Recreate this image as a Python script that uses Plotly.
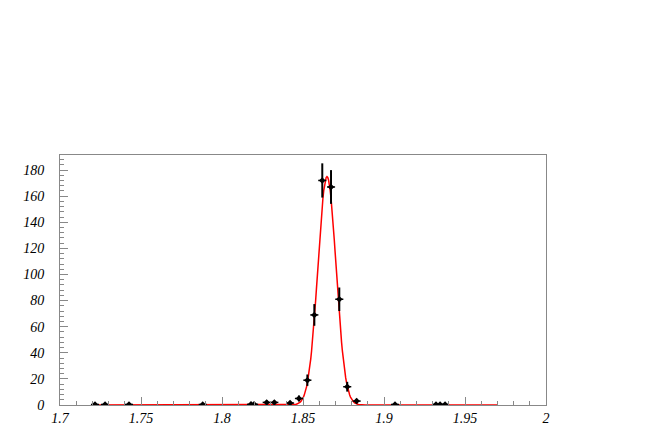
import numpy as np
import plotly.graph_objects as go

# Data points (bin centre, content)
x_vals = [1.7216, 1.7278, 1.7426, 1.7881, 1.8179, 1.8198, 1.8276, 1.8323,
          1.8420, 1.8475, 1.8527, 1.8570, 1.8619, 1.8673, 1.8724, 1.8773,
          1.8831, 1.9068, 1.9321, 1.9346, 1.9377]
y_vals = [0.4, 0.4, 0.4, 0.4, 0.5, 0.5, 2, 2,
          1.5, 5, 19, 69, 172, 167, 81, 14,
          3, 0.4, 0.4, 0.4, 0.4]
x_half_width = 0.0025

# Gaussian fit parameters
fit_amp = 175.0
fit_mean = 1.8648
fit_sigma = 0.0056
fit_range = [1.72, 1.97]

x_ticks = [1.7, 1.75, 1.8, 1.85, 1.9, 1.95, 2.0]
x_tick_text = ["1.7", "1.75", "1.8", "1.85", "1.9", "1.95", "2"]
y_ticks = [0, 20, 40, 60, 80, 100, 120, 140, 160, 180]
y_tick_text = [str(v) for v in y_ticks]

y_err = [np.sqrt(v) if v >= 1 else 0 for v in y_vals]

xf = np.linspace(fit_range[0], fit_range[1], 500)
yf = fit_amp * np.exp(-0.5 * ((xf - fit_mean) / fit_sigma) ** 2)

fig = go.Figure()
fig.add_trace(go.Scatter(
    x=xf, y=yf, mode="lines",
    line=dict(color="#ff0000", width=1.5),
    hoverinfo="skip", showlegend=False,
))
fig.add_trace(go.Scatter(
    x=x_vals, y=y_vals, mode="markers",
    marker=dict(symbol="diamond", size=5, color="black"),
    error_y=dict(type="data", array=y_err, visible=True, color="black",
                 thickness=2, width=0),
    error_x=dict(type="constant", value=x_half_width, visible=True,
                 color="black", thickness=1.5, width=0),
    showlegend=False,
))

font = dict(family="Liberation Serif, Times New Roman, serif", size=14,
            color="black", style="italic")

fig.update_layout(
    width=654, height=436,
    margin=dict(l=52, r=116, t=147, b=39),
    paper_bgcolor="white", plot_bgcolor="white",
    xaxis=dict(
        range=[1.7, 2.0], tickvals=x_ticks, ticktext=x_tick_text,
        showgrid=False, zeroline=False, showline=True, mirror=True,
        linecolor="#888888", linewidth=1,
        ticks="inside", ticklen=8, tickcolor="#888888", tickwidth=1,
        tickfont=font, ticklabelstandoff=0,
        minor=dict(dtick=0.01, ticks="inside", ticklen=4,
                   tickcolor="#888888", showgrid=False),
    ),
    yaxis=dict(
        range=[0, 191.5], tickvals=y_ticks, ticktext=y_tick_text,
        showgrid=False, zeroline=False, showline=True, mirror=True,
        linecolor="#888888", linewidth=1,
        ticks="inside", ticklen=8, tickcolor="#888888", tickwidth=1,
        tickfont=font, ticklabelstandoff=12,
        minor=dict(dtick=4, ticks="inside", ticklen=4,
                   tickcolor="#888888", showgrid=False),
    ),
)

fig.write_html("out.html")
